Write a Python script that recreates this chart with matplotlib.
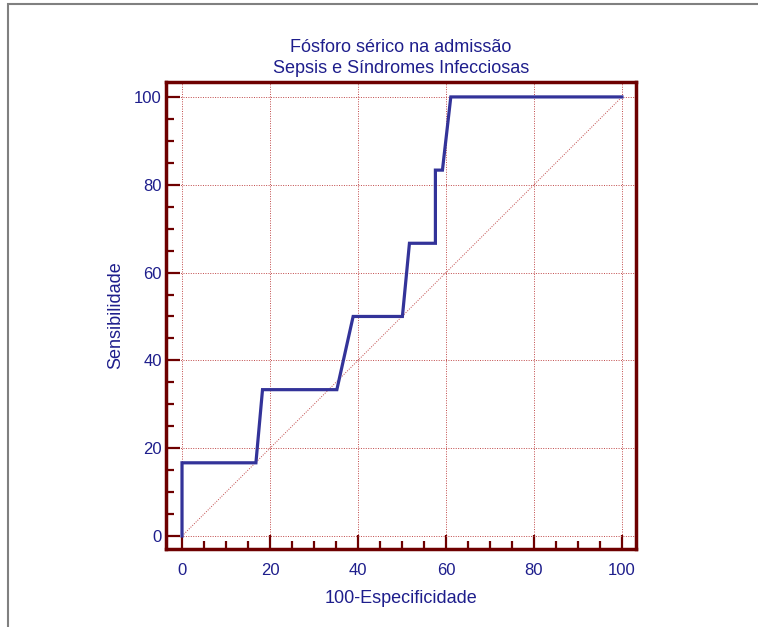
import matplotlib
matplotlib.use("Agg")
import matplotlib.pyplot as plt
from matplotlib.ticker import MultipleLocator
from matplotlib.patches import Rectangle

# ROC curve data (100-Especificidade, Sensibilidade)
fpr = [0, 0, 16.8, 18.3, 35.2, 38.9, 50.1, 51.7, 57.6, 57.6, 59.2, 61.1, 100]
tpr = [0, 16.67, 16.67, 33.33, 33.33, 50, 50, 66.67, 66.67, 83.33, 83.33, 100, 100]
xticks = [0, 20, 40, 60, 80, 100]
yticks = [0, 20, 40, 60, 80, 100]

title = "Fósforo sérico na admissão\nSepsis e Síndromes Infecciosas"
xlabel = "100-Especificidade"
ylabel = "Sensibilidade"

plt.rcParams['font.family'] = ['Liberation Sans', 'DejaVu Sans']
txt = '#1E1E8C'
spine = '#6E0000'
gridc = '#C04848'
curve = '#333399'

fig = plt.figure(figsize=(7.58, 6.27), dpi=100)
fig.patches.append(Rectangle((8/758, -0.1), 1.2, 1 - 4/627 + 0.1, transform=fig.transFigure,
                             fill=False, edgecolor='#808080', linewidth=1.5))
ax = fig.add_axes([166/758, 1 - 549/627, 470/758, 467/627])

ax.plot([0, 100], [0, 100], linestyle=(0, (1, 1.5)), color=gridc, linewidth=0.7, zorder=1)
ax.plot(fpr, tpr, color=curve, linewidth=2.3, zorder=3, solid_joinstyle='miter')

ax.set_xlim(-3.64, 103.2)
ax.set_ylim(-2.96, 103.4)
ax.set_xticks(xticks)
ax.set_yticks(yticks)
ax.xaxis.set_minor_locator(MultipleLocator(5))
ax.yaxis.set_minor_locator(MultipleLocator(5))
ax.grid(True, which='major', linestyle=(0, (1, 1.5)), color=gridc, linewidth=0.7, zorder=0)

for s in ax.spines.values():
    s.set_color(spine)
    s.set_linewidth(2.5)

ax.tick_params(which='both', direction='in', color=spine, top=False, right=False)
ax.tick_params(which='major', length=10, width=1.6, labelsize=12, labelcolor=txt)
ax.tick_params(which='minor', length=5.5, width=1.6)
ax.tick_params(axis='x', which='major', pad=10)
ax.tick_params(axis='y', which='major', pad=3)

ax.set_xlabel(xlabel, fontsize=13, color=txt, labelpad=9)
ax.set_ylabel(ylabel, fontsize=13, color=txt, labelpad=7)
ax.set_title(title, fontsize=13, color=txt, pad=6.5, linespacing=1.3)

fig.savefig("out.png", dpi=100)
